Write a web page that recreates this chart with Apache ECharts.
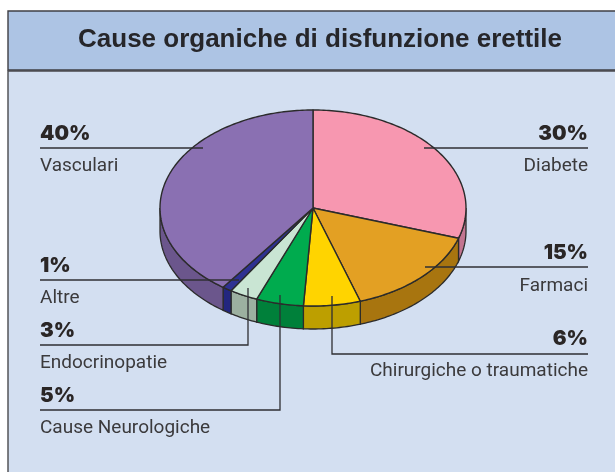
<!DOCTYPE html>
<html>
<head>
<meta charset="utf-8">
<style>
  html, body { margin: 0; padding: 0; background: #fff; }
  #chart { width: 615px; height: 472px; }
</style>
<script src="https://cdn.jsdelivr.net/npm/echarts@6/dist/echarts.min.js"></script>
</head>
<body>
<div id="chart"></div>
<script>
const titleText = 'Cause organiche di disfunzione erettile';
// clockwise from 12 o'clock
const categories = ['Diabete', 'Farmaci', 'Chirurgiche o traumatiche', 'Cause Neurologiche', 'Endocrinopatie', 'Altre', 'Vasculari'];
const values = [30, 15, 6, 5, 3, 1, 40];

const topColors = ['#f797b0', '#e3a023', '#ffd400', '#00ab4e', '#c9e5d3', '#2e3192', '#8a70b2'];
const sideColors = ['#c27490', '#a8750f', '#bd9f00', '#00803a', '#9cb0a0', '#23267f', '#6b568c'];

// pie geometry
const cx = 313, cy = 208, rx = 153, ry = 98, depth = 23;
const edge = '#2b2b2b';

// label and leader placement, same order as categories
const labelLayout = [
  { align: 'right', x: 588, pctY: 133, nameY: 165, line: [[424, 148], [588, 148]] },
  { align: 'right', x: 588, pctY: 252, nameY: 285, line: [[425, 267], [588, 267]] },
  { align: 'right', x: 588, pctY: 338, nameY: 370, line: [[332, 296], [332, 354], [588, 354]] },
  { align: 'left', x: 40, pctY: 395, nameY: 427, line: [[280, 295], [280, 410], [40, 410]] },
  { align: 'left', x: 40, pctY: 330, nameY: 362, line: [[248, 288], [248, 345], [40, 345]] },
  { align: 'left', x: 40, pctY: 265, nameY: 297, line: [[239, 280], [40, 280]] },
  { align: 'left', x: 40, pctY: 133, nameY: 165, line: [[203, 148], [40, 148]] }
];

const total = values.reduce((a, b) => a + b, 0);

function ellipsePoint(deg, dy) {
  const a = (deg - 90) * Math.PI / 180;
  return [cx + rx * Math.cos(a), cy + ry * Math.sin(a) + (dy || 0)];
}

function arcPoints(from, to, dy) {
  const pts = [];
  for (let d = from; d < to; d += 1) pts.push(ellipsePoint(d, dy));
  pts.push(ellipsePoint(to, dy));
  return pts;
}

// slice start/end in degrees clockwise from the top
let running = 0;
const sliceAngles = values.map((v) => {
  const from = running / total * 360;
  running += v;
  return [from, running / total * 360];
});

function renderSlice(params, api) {
  const i = api.value(0);
  const [from, to] = sliceAngles[i];
  const children = [];
  // only the front half of the rim shows (90deg..270deg from the top)
  const sideFrom = Math.max(from, 90);
  const sideTo = Math.min(to, 270);
  if (sideTo > sideFrom) {
    const upper = arcPoints(sideFrom, sideTo, 0);
    const lower = arcPoints(sideFrom, sideTo, depth).reverse();
    children.push({
      type: 'polygon',
      shape: { points: upper.concat(lower) },
      style: { fill: sideColors[i], stroke: edge, lineWidth: 1.3 }
    });
  }
  children.push({
    type: 'polygon',
    shape: { points: [[cx, cy]].concat(arcPoints(from, to, 0)) },
    style: { fill: topColors[i], stroke: edge, lineWidth: 1.4, lineJoin: 'round' }
  });
  return { type: 'group', children };
}

const labelGraphics = [];
categories.forEach((name, i) => {
  const l = labelLayout[i];
  labelGraphics.push({
    type: 'polyline',
    z: 20,
    shape: { points: l.line },
    style: { fill: null, stroke: '#2f2f33', lineWidth: 1.3 }
  });
  labelGraphics.push({
    type: 'text',
    z: 20,
    x: l.x,
    y: l.pctY + 1,
    style: {
      text: values[i] + '%',
      textAlign: l.align,
      textVerticalAlign: 'middle',
      fontFamily: 'Inter, "Liberation Sans", sans-serif',
      fontWeight: 900,
      fontSize: 20.5,
      fill: '#2a2626'
    }
  });
  labelGraphics.push({
    type: 'text',
    z: 20,
    x: l.x,
    y: l.nameY + 1,
    style: {
      text: name,
      textAlign: l.align,
      textVerticalAlign: 'middle',
      fontFamily: 'Roboto, sans-serif',
      fontSize: 19,
      fill: '#3b3a3c'
    }
  });
});

const chart = echarts.init(document.getElementById('chart'), null, { renderer: 'canvas' });

chart.setOption({
  animation: false,
  backgroundColor: '#ffffff',
  title: {
    text: titleText,
    left: 315,
    top: 22,
    textAlign: 'center',
    textStyle: {
      fontFamily: '"Liberation Sans", Arial, sans-serif',
      fontWeight: 'bold',
      fontSize: 26,
      color: '#26262a'
    }
  },
  graphic: {
    elements: [
      {
        type: 'rect',
        z: -2,
        shape: { x: 8, y: 71, width: 620, height: 420 },
        style: { fill: '#d3dff1', stroke: '#4a4a4e', lineWidth: 1.4 }
      },
      {
        type: 'rect',
        z: -1,
        shape: { x: 8, y: 11, width: 620, height: 59 },
        style: { fill: '#adc4e4', stroke: '#3f3f44', lineWidth: 1.4 }
      }
    ].concat(labelGraphics)
  },
  series: [
    {
      type: 'custom',
      coordinateSystem: 'none',
      silent: true,
      z: 5,
      renderItem: renderSlice,
      data: values.map((v, i) => [i, v])
    }
  ]
});

window.addEventListener('resize', () => chart.resize());
</script>
</body>
</html>
